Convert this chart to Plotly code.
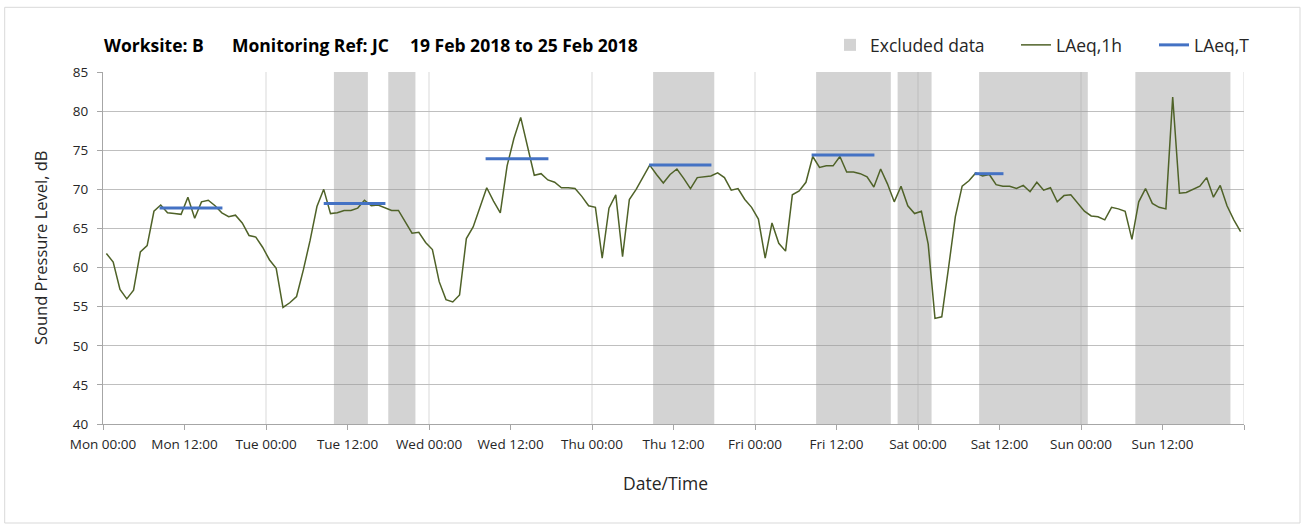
import plotly.graph_objects as go
import pandas as pd

# ---------------- data ----------------
START = "2018-02-19 00:00"
END = "2018-02-26 00:00"

# hourly LAeq,1h values (dB), first hour starting Mon 19 Feb 2018 00:00
laeq_1h = [
    61.8, 60.7, 57.2, 56.0, 57.1, 62.0, 62.8, 67.2, 68.0, 67.0, 66.9, 66.8,
    69.0, 66.3, 68.4, 68.6, 67.9, 67.0, 66.5, 66.7, 65.7, 64.1, 63.9, 62.6,
    61.0, 59.9, 54.9, 55.5, 56.3, 59.7, 63.5, 67.8, 70.0, 66.9, 67.0, 67.3,
    67.3, 67.6, 68.6, 67.9, 68.0, 67.6, 67.3, 67.3, 65.9, 64.4, 64.5, 63.2,
    62.3, 58.2, 55.9, 55.6, 56.5, 63.7, 65.2, 67.6, 70.2, 68.5, 67.0, 73.0,
    76.5, 79.2, 75.4, 71.8, 72.0, 71.2, 70.9, 70.2, 70.2, 70.1, 69.1, 67.9,
    67.7, 61.2, 67.6, 69.3, 61.4, 68.7, 70.0, 71.6, 73.1, 71.9, 70.8, 71.9,
    72.6, 71.4, 70.1, 71.5, 71.6, 71.7, 72.1, 71.5, 69.9, 70.1, 68.7, 67.7,
    66.2, 61.2, 65.7, 63.1, 62.1, 69.3, 69.8, 70.9, 74.2, 72.8, 73.0, 73.0,
    74.2, 72.2, 72.2, 72.0, 71.6, 70.3, 72.6, 70.7, 68.4, 70.4, 67.9, 66.9,
    67.2, 63.0, 53.5, 53.7, 60.0, 66.5, 70.4, 71.1, 72.1, 71.7, 71.9, 70.6,
    70.4, 70.4, 70.1, 70.5, 69.7, 70.9, 69.9, 70.2, 68.4, 69.2, 69.3, 68.2,
    67.2, 66.6, 66.5, 66.1, 67.7, 67.5, 67.2, 63.6, 68.4, 70.1, 68.2, 67.7,
    67.5, 81.8, 69.5, 69.6, 70.0, 70.4, 71.5, 69.0, 70.5, 67.9, 66.1, 64.6,
]

# LAeq,T period values
laeqT_start = ["2018-02-19 08:20", "2018-02-20 08:30", "2018-02-21 08:20",
               "2018-02-22 08:25", "2018-02-23 08:20", "2018-02-24 08:20"]
laeqT_end = ["2018-02-19 17:35", "2018-02-20 17:35", "2018-02-21 17:35",
             "2018-02-22 17:35", "2018-02-23 17:35", "2018-02-24 12:35"]
laeqT = [67.6, 68.2, 73.9, 73.1, 74.4, 72.0]

# Excluded data periods
excl_start = ["2018-02-20 10:00", "2018-02-20 18:00", "2018-02-22 09:00",
              "2018-02-23 09:00", "2018-02-23 21:00", "2018-02-24 09:00",
              "2018-02-25 08:00"]
excl_end = ["2018-02-20 15:00", "2018-02-20 22:00", "2018-02-22 18:00",
            "2018-02-23 20:00", "2018-02-24 02:00", "2018-02-25 01:00",
            "2018-02-25 22:00"]

title_parts = ["Worksite: B", "Monitoring Ref: JC", "19 Feb 2018 to 25 Feb 2018"]

Y_MIN, Y_MAX = 40, 85

# ---------------- derived ----------------
t0 = pd.Timestamp(START)
t1 = pd.Timestamp(END)
hour_times = pd.date_range(t0 + pd.Timedelta(minutes=30), periods=len(laeq_1h), freq="h")

es = pd.to_datetime(excl_start)
ee = pd.to_datetime(excl_end)
excl_mid = es + (ee - es) / 2
excl_width_ms = [(b - a).total_seconds() * 1000 for a, b in zip(es, ee)]

tx, ty = [], []
for s, e, v in zip(laeqT_start, laeqT_end, laeqT):
    tx += [pd.Timestamp(s), pd.Timestamp(e), None]
    ty += [v, v, None]

tick_vals = pd.date_range(t0, t1, freq="12h")
tick_text = [t.strftime("%a %H:%M") for t in tick_vals[:-1]] + [""]

FONT = "Open Sans"
GREEN = "#4F6228"
BLUE = "#4472C4"
TXT = "#262626"

W, H = 1307, 525
ML, MR, MT, MB = 103, 63, 72, 101
PW, PH = W - ML - MR, H - MT - MB


def px(xp):
    return (xp - ML) / PW


def py(yp):
    return (H - MB - yp) / PH


fig = go.Figure()

fig.add_trace(go.Bar(
    x=excl_mid, y=[Y_MAX - Y_MIN] * len(es), base=Y_MIN, width=excl_width_ms,
    marker=dict(color="rgba(150,150,150,0.42)", line=dict(width=0)),
    name="Excluded data", legend="legend", hoverinfo="skip",
))
fig.add_trace(go.Scatter(
    x=hour_times, y=laeq_1h, mode="lines", name="LAeq,1h",
    line=dict(color=GREEN, width=1.5), legend="legend2",
))
fig.add_trace(go.Scatter(
    x=tx, y=ty, mode="lines", name="LAeq,T",
    line=dict(color=BLUE, width=3), legend="legend3",
))

# vertical day gridlines
for d in pd.date_range(t0 + pd.Timedelta(days=1), t1, freq="D"):
    fig.add_shape(type="line", xref="x", yref="paper", x0=d, x1=d, y0=0, y1=1,
                  line=dict(color="#D9D9D9", width=1), layer="below")

leg_common = dict(orientation="h", yanchor="middle", y=py(45), xanchor="left",
                  bgcolor="rgba(0,0,0,0)", font=dict(family=FONT, size=17.5, color=TXT),
                  borderwidth=0, itemwidth=30)

title_x = [102, 230, 408]
annotations = [
    dict(text=t, xref="paper", yref="paper", x=px(x), y=py(44.5),
         xanchor="left", yanchor="middle", showarrow=False,
         font=dict(family=FONT, size=17.5, color="#000000", weight="bold"))
    for t, x in zip(title_parts, title_x)
]
annotations += [
    dict(text="Sound Pressure Level, dB", xref="paper", yref="paper", x=px(40), y=0.5,
         textangle=-90, xanchor="center", yanchor="middle", showarrow=False,
         font=dict(family=FONT, size=16.5, color=TXT)),
    dict(text="Date/Time", xref="paper", yref="paper", x=px(665), y=py(483),
         xanchor="center", yanchor="middle", showarrow=False,
         font=dict(family=FONT, size=17.5, color=TXT)),
]

fig.update_layout(
    width=W, height=H,
    margin=dict(l=ML, r=MR, t=MT, b=MB, autoexpand=False),
    paper_bgcolor="white", plot_bgcolor="white",
    font=dict(family=FONT, size=13, color=TXT),
    showlegend=True,
    legend=dict(x=px(830), **leg_common),
    legend2=dict(x=px(1016), **leg_common),
    legend3=dict(x=px(1154), **leg_common),
    xaxis=dict(
        type="date", range=[t0, t1],
        tickmode="array", tickvals=tick_vals, ticktext=tick_text,
        showgrid=False, showline=True, linecolor="#A6A6A6", linewidth=1,
        ticks="outside", ticklen=5, tickcolor="#A6A6A6",
        tickfont=dict(family=FONT, size=13.5, color=TXT),
        ticklabelstandoff=3,
        zeroline=False,
    ),
    yaxis=dict(
        range=[Y_MIN, Y_MAX], dtick=5, tick0=40,
        showgrid=True, gridcolor="#BFBFBF", gridwidth=1,
        showline=True, linecolor="#A6A6A6", linewidth=1,
        ticks="outside", ticklen=5, tickcolor="#A6A6A6",
        tickfont=dict(family=FONT, size=13.5, color=TXT),
        ticklabelstandoff=6,
        zeroline=False,
    ),
    annotations=annotations,
)

# outer chart border
fig.add_shape(type="rect", xref="paper", yref="paper",
              x0=px(4.7), x1=px(1300), y0=py(523), y1=py(7.3),
              line=dict(color="#D9D9D9", width=1), fillcolor="rgba(0,0,0,0)", layer="below")

fig.write_html("out.html", config={"displayModeBar": False},
               post_script="document.body.style.margin='0px';")
